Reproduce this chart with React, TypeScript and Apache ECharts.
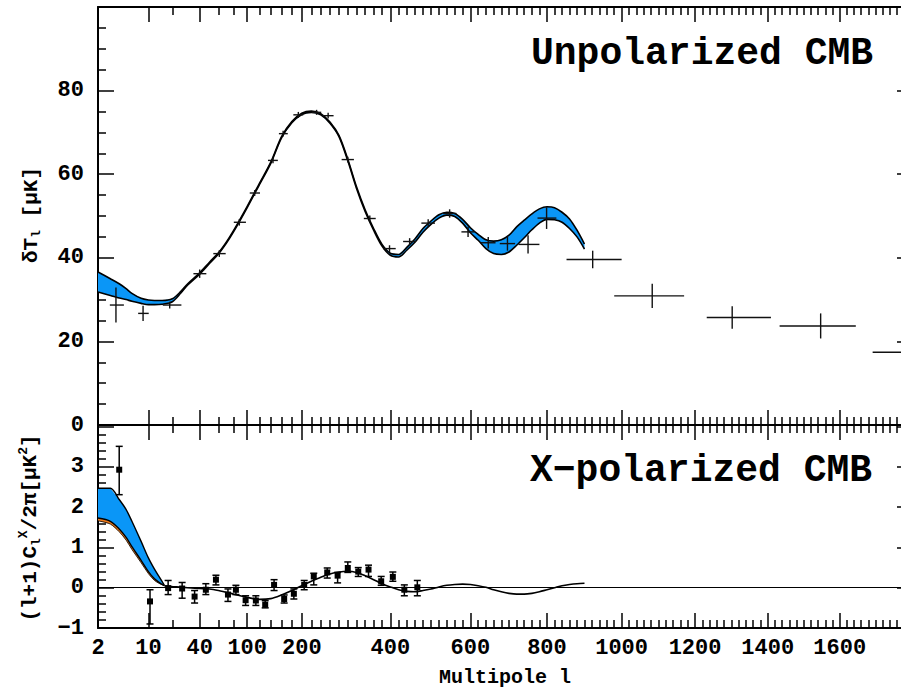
import React, { useEffect, useRef } from 'react';
import * as echarts from 'echarts';

// ---- x mapping (multipole l -> axis coordinate) ----
const A = 29.6;
const B = 0.34;
const U = (l: number) => A * Math.log(l) + B * l;
const L_MIN = 2;
const L_MAX = 1805;

// ---- ticks ----
const majorTicksL = [2, 10, 40, 100, 200, 400, 600, 800, 1000, 1200, 1400, 1600, 1800];
const labelTicksL = [2, 10, 40, 100, 200, 400, 600, 800, 1000, 1200, 1400, 1600];
const minorTicksL: number[] = [20, 60, 80, 120, 140, 160, 180];
for (let l = 220; l < 1800; l += 20) if (l % 200 !== 0) minorTicksL.push(l);

// ---- Unpolarized (TT) model band ----
const ttModelL = [2, 3, 4, 5, 6, 8, 10, 12, 15, 20, 25, 30, 40, 50, 60, 70, 80, 100, 120, 140, 160, 180, 200, 220, 240, 260, 280, 300, 320, 340, 360, 380, 400, 420, 440, 460, 480, 500, 520, 540, 560, 580, 600, 620, 640, 660, 680, 700, 720, 740, 760, 780, 800, 820, 840, 860, 880, 900];
const ttUpper = [36.6, 35.0, 33.8, 32.6, 31.5, 30.3, 29.9, 29.8, 29.8, 30.2, 31.9, 33.8, 36.4, 39.0, 41.2, 43.8, 46.6, 52.3, 57.8, 62.9, 69.0, 72.6, 74.6, 75.1, 74.5, 72.5, 69.3, 63.6, 57.0, 51.5, 47.0, 43.2, 41.1, 40.8, 42.5, 44.5, 47.0, 48.8, 50.3, 50.9, 50.6, 49.2, 47.2, 45.6, 44.3, 44.0, 44.3, 45.4, 47.4, 49.0, 50.5, 51.7, 52.2, 52.0, 50.9, 49.3, 46.6, 43.3];
const ttLower = [31.8, 31.0, 30.4, 30.0, 29.6, 29.1, 28.8, 28.8, 28.9, 29.5, 31.5, 33.5, 36.1, 38.7, 40.9, 43.5, 46.3, 52.0, 57.5, 62.6, 68.7, 72.3, 74.3, 74.8, 74.2, 72.2, 69.0, 63.2, 56.6, 51.1, 46.6, 42.8, 40.6, 40.2, 41.8, 43.7, 46.1, 48.0, 49.5, 50.2, 49.9, 48.3, 46.0, 44.2, 42.2, 41.0, 40.8, 41.4, 43.0, 44.8, 46.7, 48.3, 49.2, 49.1, 48.5, 47.0, 45.0, 42.1];

// ---- Unpolarized (TT) measurements ----
const ttL = [3.6, 8.5, 18.6, 40, 61, 88, 112, 144, 163, 193, 231, 256, 300, 351, 398, 447, 493, 547, 594, 646, 696, 750, 799, 922, 1083, 1302, 1547, 1800];
const ttVal = [28.7, 26.7, 28.7, 36.2, 41.0, 48.5, 55.5, 63.3, 69.7, 74.2, 74.8, 74.0, 63.5, 49.4, 42.2, 43.9, 48.3, 50.6, 46.2, 43.6, 43.4, 43.2, 49.5, 39.6, 30.9, 25.7, 23.7, 17.4];
const ttErr = [4.2, 1.8, 0.8, 1.0, 0.8, 0.8, 0.7, 0.7, 0.7, 0.7, 0.6, 0.7, 0.7, 0.7, 0.8, 0.8, 0.9, 1.0, 1.2, 1.4, 1.7, 2.2, 2.6, 2.1, 2.9, 2.7, 3.0, 3.0];
const ttLLo = [2.95, 7.3, 15.3, 34.5, 54, 80, 104, 135, 155, 183, 221, 244, 286, 337, 383, 431, 476, 530, 577, 627, 676, 725, 775, 852, 980, 1232, 1433, 1692];
const ttLHi = [4.65, 10.1, 25.5, 46.5, 69, 98, 121, 153, 172, 203, 241, 268, 314, 365, 413, 463, 510, 564, 611, 665, 716, 780, 825, 1000, 1170, 1409, 1645, 1920];

// ---- X-polarized (TE) model ----
const teBandL = [2, 3, 4, 5, 6, 8, 10, 12, 14, 16];
const teUpper = [2.47, 2.47, 2.19, 1.94, 1.65, 1.15, 0.74, 0.46, 0.25, 0.06];
const teLower = [1.73, 1.65, 1.46, 1.25, 1.02, 0.68, 0.40, 0.22, 0.12, 0.05];
const teOrangeLow = [1.66, 1.58, 1.39, 1.18, 0.95, 0.62, 0.35, 0.18, 0.10, 0.05];
const teModelL = [16, 20, 30, 40, 50, 60, 80, 100, 120, 140, 160, 180, 200, 220, 240, 260, 280, 300, 320, 340, 360, 380, 400, 420, 440, 460, 480, 500, 520, 540, 560, 580, 600, 620, 640, 660, 680, 700, 720, 740, 760, 780, 800, 820, 840, 860, 880, 900];
const teModel = [0.05, 0.03, 0.0, -0.02, -0.03, -0.07, -0.16, -0.24, -0.29, -0.27, -0.18, -0.07, 0.05, 0.16, 0.26, 0.34, 0.39, 0.41, 0.38, 0.30, 0.20, 0.10, 0.02, -0.05, -0.09, -0.10, -0.07, -0.03, 0.02, 0.06, 0.08, 0.09, 0.08, 0.05, 0.01, -0.05, -0.10, -0.14, -0.16, -0.16, -0.14, -0.10, -0.05, 0.0, 0.05, 0.08, 0.10, 0.11];

// ---- X-polarized (TE) measurements ----
const teL = [4, 10.5, 17.8, 26, 35.5, 46, 57, 72, 83, 97.5, 114, 130, 146, 165, 184, 205, 225, 254, 277, 300, 324, 348, 378, 406, 434, 466];
const teVal = [2.93, -0.34, -0.01, -0.02, -0.22, -0.05, 0.20, -0.17, -0.05, -0.31, -0.32, -0.42, 0.07, -0.28, -0.15, 0.07, 0.28, 0.38, 0.30, 0.49, 0.40, 0.45, 0.16, 0.27, -0.05, 0.01];
const teLo = [2.31, -0.9, -0.17, -0.26, -0.38, -0.17, 0.07, -0.34, -0.17, -0.44, -0.44, -0.50, -0.07, -0.38, -0.28, -0.05, 0.07, 0.24, 0.12, 0.38, 0.28, 0.28, 0.06, 0.16, -0.20, -0.20];
const teHi = [3.51, -0.05, 0.18, 0.13, -0.07, 0.10, 0.31, -0.03, 0.06, -0.20, -0.20, -0.32, 0.20, -0.18, -0.03, 0.18, 0.36, 0.49, 0.38, 0.64, 0.50, 0.56, 0.28, 0.39, 0.07, 0.18];

const FONT = "'Liberation Mono', 'DejaVu Sans Mono', monospace";
const BLUE = '#0a96f7';
const ORANGE = '#f07a1a';
const BLACK = '#000';

function labelFor(val: number) {
  let best = labelTicksL[0];
  let bd = Infinity;
  for (const l of labelTicksL) {
    const d = Math.abs(U(l) - val);
    if (d < bd) { bd = d; best = l; }
  }
  return String(best);
}

function xAxes(gridIndex: number, position: 'top' | 'bottom', labels: boolean) {
  const base = {
    type: 'value', gridIndex, position, min: U(L_MIN), max: U(L_MAX),
    splitLine: { show: false },
  };
  return [
    {
      ...base,
      axisLine: { show: true, onZero: false, lineStyle: { color: BLACK, width: 2 } },
      axisTick: { show: true, inside: true, length: 15, customValues: majorTicksL.map(U), lineStyle: { color: BLACK, width: 1.5 } },
      axisLabel: labels
        ? { show: true, customValues: labelTicksL.map(U), formatter: labelFor, margin: 9, color: BLACK, fontSize: 22, fontWeight: 'bold', fontFamily: FONT }
        : { show: false },
    },
    {
      ...base,
      axisLine: { show: false, onZero: false },
      axisTick: { show: true, inside: true, length: 8, customValues: minorTicksL.map(U), lineStyle: { color: BLACK, width: 1.5 } },
      axisLabel: { show: false },
    },
  ];
}

function yAxis(gridIndex: number, position: 'left' | 'right', min: number, max: number, interval: number, split: number, labels: boolean, labelMax: number) {
  return {
    type: 'value', gridIndex, position, min, max, interval,
    axisLine: { show: true, onZero: false, lineStyle: { color: BLACK, width: 2 } },
    axisTick: { show: true, inside: true, length: 16, lineStyle: { color: BLACK, width: 1.5 } },
    minorTick: { show: true, splitNumber: split, length: 8, lineStyle: { color: BLACK, width: 1.5 } },
    splitLine: { show: false },
    minorSplitLine: { show: false },
    axisLabel: labels
      ? {
          show: true, margin: 14, color: BLACK, fontSize: 22, fontWeight: 'bold', fontFamily: FONT,
          formatter: (v: number) => (v > labelMax || Math.abs(v - Math.round(v)) > 1e-6 ? '' : String(v).replace('-', '\u2212')),
        }
      : { show: false },
  };
}

function bandSeries(xi: number, yi: number, ls: number[], up: number[], lo: number[], color: string) {
  return {
    type: 'custom', xAxisIndex: xi, yAxisIndex: yi, clip: true, silent: true, z: 2,
    data: ls.map((l, i) => [U(l), up[i], lo[i]]),
    renderItem: (params: any, api: any) => {
      if (params.dataIndex !== 0) return null;
      const pts: number[][] = [];
      for (let i = 0; i < ls.length; i++) pts.push(api.coord([U(ls[i]), up[i]]));
      for (let i = ls.length - 1; i >= 0; i--) pts.push(api.coord([U(ls[i]), lo[i]]));
      return { type: 'polygon', shape: { points: pts }, style: { fill: color, stroke: 'none' } };
    },
  };
}

function lineSeries(xi: number, yi: number, ls: number[], vs: number[], width: number, extra: any = {}) {
  return {
    type: 'line', xAxisIndex: xi, yAxisIndex: yi, silent: true, z: 3,
    data: ls.map((l, i) => [U(l), vs[i]]),
    symbol: 'none', smooth: 0.3,
    lineStyle: { color: BLACK, width },
    ...extra,
  };
}

function buildOption() {
  return {
    animation: false,
    textStyle: { fontFamily: FONT },
    grid: [
      { left: 98, top: 7, width: 815, height: 418, outerBoundsMode: 'none', containLabel: false },
      { left: 98, top: 425, width: 815, height: 203, outerBoundsMode: 'none', containLabel: false },
    ],
    xAxis: [
      ...xAxes(0, 'bottom', false),
      ...xAxes(0, 'top', false),
      ...xAxes(1, 'bottom', true),
      ...xAxes(1, 'top', false),
    ],
    yAxis: [
      yAxis(0, 'left', 0, 100, 20, 4, true, 90),
      yAxis(0, 'right', 0, 100, 20, 4, false, 90),
      yAxis(1, 'left', -1, 4.04, 1, 5, true, 3.5),
      yAxis(1, 'right', -1, 4.04, 1, 5, false, 3.5),
    ],
    series: [
      // TT band and edges
      bandSeries(0, 0, ttModelL, ttUpper, ttLower, BLUE),
      lineSeries(0, 0, ttModelL, ttUpper, 1.6),
      lineSeries(0, 0, ttModelL, ttLower, 1.6),
      // TT crosses
      {
        type: 'custom', xAxisIndex: 0, yAxisIndex: 0, clip: true, silent: true, z: 4,
        data: ttL.map((l, i) => [U(l), ttVal[i], ttVal[i] - ttErr[i], ttVal[i] + ttErr[i], U(ttLLo[i]), U(ttLHi[i])]),
        renderItem: (params: any, api: any) => {
          const x = api.value(0), v = api.value(1), lo = api.value(2), hi = api.value(3), xl = api.value(4), xh = api.value(5);
          const h1 = api.coord([xl, v]), h2 = api.coord([xh, v]);
          const v1 = api.coord([x, lo]), v2 = api.coord([x, hi]);
          const st = { stroke: '#111', lineWidth: 1.4 };
          return {
            type: 'group',
            children: [
              { type: 'line', shape: { x1: h1[0], y1: h1[1], x2: h2[0], y2: h2[1] }, style: st },
              { type: 'line', shape: { x1: v1[0], y1: v1[1], x2: v2[0], y2: v2[1] }, style: st },
            ],
          };
        },
      },
      // TE bands
      bandSeries(4, 2, teBandL, teUpper, teLower, BLUE),
      bandSeries(4, 2, teBandL, teLower, teOrangeLow, ORANGE),
      lineSeries(4, 2, teBandL, teUpper, 1.4),
      lineSeries(4, 2, teBandL, teLower, 1.4),
      lineSeries(4, 2, teBandL, teOrangeLow, 0.8),
      lineSeries(4, 2, teModelL, teModel, 1.6, {
        markLine: {
          silent: true, symbol: ['none', 'none'], label: { show: false },
          lineStyle: { color: BLACK, width: 1.2, type: 'solid' },
          data: [{ yAxis: 0 }],
        },
      }),
      // TE measurements
      {
        type: 'custom', xAxisIndex: 4, yAxisIndex: 2, clip: true, silent: true, z: 5,
        data: teL.map((l, i) => [U(l), teVal[i], teLo[i], teHi[i]]),
        renderItem: (params: any, api: any) => {
          const x = api.value(0), v = api.value(1), lo = api.value(2), hi = api.value(3);
          const c = api.coord([x, v]), p1 = api.coord([x, lo]), p2 = api.coord([x, hi]);
          const st = { stroke: BLACK, lineWidth: 1.5 };
          const cap = 3.5, sq = 6;
          return {
            type: 'group',
            children: [
              { type: 'line', shape: { x1: p1[0], y1: p1[1], x2: p2[0], y2: p2[1] }, style: st },
              { type: 'line', shape: { x1: p1[0] - cap, y1: p1[1], x2: p1[0] + cap, y2: p1[1] }, style: st },
              { type: 'line', shape: { x1: p2[0] - cap, y1: p2[1], x2: p2[0] + cap, y2: p2[1] }, style: st },
              { type: 'rect', shape: { x: c[0] - sq / 2, y: c[1] - sq / 2, width: sq, height: sq }, style: { fill: BLACK } },
            ],
          };
        },
      },
    ],
    graphic: [
      {
        type: 'text', x: 531, y: 53, z: 10,
        style: { text: 'Unpolarized CMB', fontFamily: FONT, fontSize: 38, fontWeight: 'bold', fill: BLACK, align: 'left', verticalAlign: 'middle' },
      },
      {
        type: 'text', x: 530, y: 470, z: 10,
        style: { text: 'X\u2212polarized CMB', fontFamily: FONT, fontSize: 38, fontWeight: 'bold', fill: BLACK, align: 'left', verticalAlign: 'middle' },
      },
      {
        type: 'text', x: 505, y: 677, z: 10,
        style: { text: 'Multipole l', fontFamily: FONT, fontSize: 20, fontWeight: 'bold', fill: BLACK, align: 'center', verticalAlign: 'middle' },
      },
      {
        type: 'text', x: 31, y: 215, rotation: Math.PI / 2, z: 10,
        style: {
          text: '{m|\u03b4T}{s|l}{m| [\u03bcK]}',
          align: 'center', verticalAlign: 'middle', fill: BLACK,
          rich: {
            m: { fontFamily: FONT, fontSize: 21, fontWeight: 'bold', fill: BLACK, lineHeight: 24, verticalAlign: 'middle' },
            s: { fontFamily: FONT, fontSize: 13, fontWeight: 'bold', fill: BLACK, lineHeight: 24, verticalAlign: 'bottom' },
          },
        },
      },
      {
        type: 'text', x: 30, y: 528, rotation: Math.PI / 2, z: 10,
        style: {
          text: '{m|(l+1)C}{s|l}{p|X}{m|/2\u03c0[\u03bcK}{p|2}{m|]}',
          align: 'center', verticalAlign: 'middle', fill: BLACK,
          rich: {
            m: { fontFamily: FONT, fontSize: 21, fontWeight: 'bold', fill: BLACK, lineHeight: 26, verticalAlign: 'middle' },
            s: { fontFamily: FONT, fontSize: 13, fontWeight: 'bold', fill: BLACK, lineHeight: 26, verticalAlign: 'bottom' },
            p: { fontFamily: FONT, fontSize: 13, fontWeight: 'bold', fill: BLACK, lineHeight: 26, verticalAlign: 'top' },
          },
        },
      },
    ],
  };
}

export default function App() {
  const ref = useRef<HTMLDivElement>(null);
  useEffect(() => {
    const chart = echarts.init(ref.current as HTMLDivElement, undefined, { renderer: 'svg' });
    chart.setOption(buildOption() as any);
    return () => chart.dispose();
  }, []);
  return <div ref={ref} style={{ position: 'absolute', left: 0, top: 0, width: 901, height: 691 }} />;
}
